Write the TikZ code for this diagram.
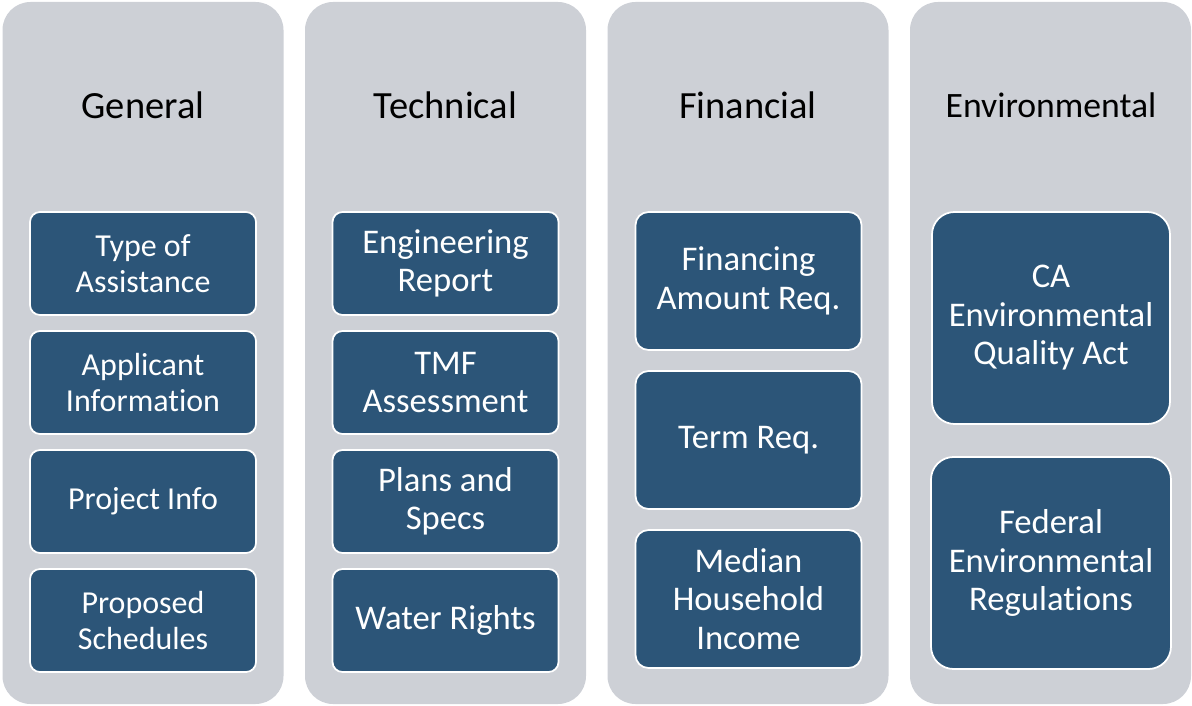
\documentclass[tikz,border=0pt]{standalone}
\usepackage{fontspec}
\setmainfont{Carlito}[Ligatures=NoCommon]
\usetikzlibrary{positioning}

\definecolor{colgray}{RGB}{205,208,214}
\definecolor{itemblue}{RGB}{44,85,120}

\tikzset{
 column/.style={fill=colgray,rounded corners=0.56cm,minimum width=5.62cm,minimum height=14.04cm,inner sep=0pt},
 title/.style={font=\fontsize{21.9}{26}\selectfont},
 item/.style={fill=itemblue,draw=white,line width=1pt,text=white,align=center,
   rounded corners=0.2cm,minimum width=4.52cm,minimum height=2.06cm,inner sep=2pt,outer sep=0pt,
   font=\fontsize{19.7}{21.9}\selectfont},
 small/.style={font=\fontsize{18.2}{20.5}\selectfont}
}

\begin{document}
\begin{tikzpicture}
 \useasboundingbox (0,0) rectangle (23.84,-14.12);
 % four columns
 \node[column] (gen) at (2.86,-7.06) {};
 \node[column] (tech) at (8.91,-7.06) {};
 \node[column] (fin) at (14.96,-7.06) {};
 \node[column] (env) at (21.01,-7.06) {};
 \node[title] (gentitle) at (2.86,-2.1) {General};
 \node[title] (techtitle) at (8.91,-2.1) {Technical};
 \node[title] (fintitle) at (14.96,-2.1) {Financial};
 \node[title,font=\fontsize{20.3}{24}\selectfont] (envtitle) at (21.02,-2.1) {Environmental};
 % general
 \node[item,small,anchor=north] (gen1) at (2.86,-4.24) {Type of\\Assistance};
 \node[item,small,below=0.32cm of gen1] (gen2) {Applicant\\Information};
 \node[item,small,below=0.32cm of gen2] (gen3) {Project Info};
 \node[item,small,below=0.32cm of gen3] (gen4) {Proposed\\Schedules};
 % technical
 \node[item,anchor=north] (tech1) at (8.91,-4.24) {Engineering\\Report};
 \node[item,below=0.32cm of tech1] (tech2) {TMF\\Assessment};
 \node[item,below=0.32cm of tech2] (tech3) {Plans and\\Specs};
 \node[item,below=0.32cm of tech3] (tech4) {Water Rights};
 % financial
 \node[item,anchor=north,minimum height=2.76cm,rounded corners=0.26cm] (fin1) at (14.97,-4.24) {Financing\\Amount Req.};
 \node[item,below=0.42cm of fin1,minimum height=2.76cm,rounded corners=0.26cm] (fin2) {Term Req.};
 \node[item,below=0.42cm of fin2,minimum height=2.76cm,rounded corners=0.26cm] (fin3) {Median\\Household\\Income};
 % environmental
 \node[item,anchor=north,minimum width=4.76cm,minimum height=4.24cm,rounded corners=0.45cm] (env1) at (21.02,-4.24) {CA\\Environmental\\Quality Act};
 \node[item,below=0.66cm of env1,minimum width=4.8cm,minimum height=4.24cm,rounded corners=0.45cm] (env2) {Federal\\Environmental\\Regulations};
\end{tikzpicture}
\end{document}
